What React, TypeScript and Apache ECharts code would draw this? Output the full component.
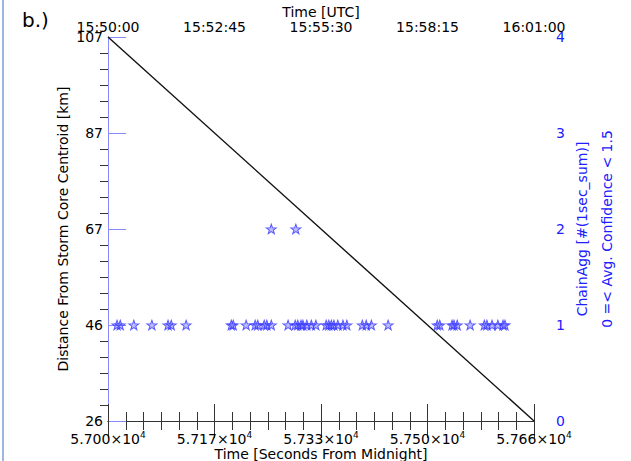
import React, { useEffect, useRef } from "react";
import * as echarts from "echarts";

// ---- data ----
const TIME_MIN = 57000; // seconds from midnight
const TIME_MAX = 57660;
const TIME_STEP = 165;
const DIST_MIN = 26;
const DIST_MAX = 107;
const DIST_STEP = 20.25;

// distance line (time [s], distance [km])
const LINE_TIME = [57000, 57660];
const LINE_DIST = [107, 26];

// ChainAgg stars (time [s], count)
const STAR_TIME = [
  57014, 57019, 57040, 57068, 57093, 57098, 57121,
  57191, 57194, 57214, 57228, 57232, 57242, 57246, 57253,
  57279, 57290, 57294, 57299, 57302, 57308, 57315, 57322,
  57338, 57342, 57346, 57350, 57356, 57364, 57370,
  57394, 57400, 57408, 57434,
  57510, 57514, 57533, 57536, 57541, 57561, 57583, 57587, 57595, 57604, 57612, 57615,
  57253, 57291,
];
const STAR_COUNT = [
  1, 1, 1, 1, 1, 1, 1,
  1, 1, 1, 1, 1, 1, 1, 1,
  1, 1, 1, 1, 1, 1, 1, 1,
  1, 1, 1, 1, 1, 1, 1,
  1, 1, 1, 1,
  1, 1, 1, 1, 1, 1, 1, 1, 1, 1, 1, 1,
  2, 2,
];

const FONT = "DejaVu Sans";
const BLUE = "#2020ff";
const AXIS_BLUE = "#8a8aff";
const STAR =
  "path://M0,-10L2.35,-3.24L9.51,-3.09L3.8,1.24L5.88,8.09L0,4L-5.88,8.09L-3.8,1.24L-9.51,-3.09L-2.35,-3.24Z";

const pad = (n: number) => (n < 10 ? "0" + n : "" + n);
const fmtUTC = (v: number) => {
  const t = Math.round(TIME_MIN + v);
  const h = Math.floor(t / 3600);
  const m = Math.floor((t % 3600) / 60);
  const s = t % 60;
  return `${pad(h)}:${pad(m)}:${pad(s)}`;
};
const fmtSci = (v: number) => {
  const t = TIME_MIN + v;
  const mant = (Math.round(t / 10) / 1000).toFixed(3);
  return `{m|${mant}×10}{s|4}`;
};

export default function App() {
  const ref = useRef<HTMLDivElement>(null);
  useEffect(() => {
    if (!ref.current) return;
    const chart = echarts.init(ref.current, undefined, { renderer: "svg" });
    const lineData = LINE_TIME.map((t, i) => [t - TIME_MIN, LINE_DIST[i] - DIST_MIN]);
    const starData = STAR_TIME.map((t, i) => [t - TIME_MIN, STAR_COUNT[i]]);
    const xRange = TIME_MAX - TIME_MIN;
    const yRange = DIST_MAX - DIST_MIN;
    chart.setOption({
      animation: false,
      textStyle: { fontFamily: FONT },
      grid: { left: 108, right: 97, top: 37, bottom: 40, containLabel: false, outerBoundsMode: "none" },
      xAxis: [
        {
          type: "value",
          position: "bottom",
          min: 0,
          max: xRange,
          interval: TIME_STEP,
          name: "Time [Seconds From Midnight]",
          nameLocation: "middle",
          nameGap: 26,
          nameMoveOverlap: false,
          nameTextStyle: { fontSize: 14, color: "#000", fontFamily: FONT },
          axisLine: { lineStyle: { color: "#333", width: 1 } },
          axisTick: { inside: true, length: 17, lineStyle: { color: "#333" } },
          minorTick: { show: true, splitNumber: 6, length: -9, lineStyle: { color: "#333" } },
          splitLine: { show: false },
          axisLabel: {
            margin: 9,
            formatter: fmtSci,
            color: "#000",
            alignMinLabel: "center",
            alignMaxLabel: "center",
            rich: {
              m: { fontSize: 14, fontFamily: FONT, color: "#000" },
              s: { fontSize: 9, fontFamily: FONT, color: "#000", verticalAlign: "top", padding: [0, 0, 8, 0] },
            },
          },
        },
        {
          type: "value",
          position: "top",
          min: 0,
          max: xRange,
          interval: TIME_STEP,
          name: "Time [UTC]",
          nameLocation: "middle",
          nameGap: 18,
          nameMoveOverlap: false,
          nameTextStyle: { fontSize: 14, color: "#000", fontFamily: FONT },
          axisLine: { lineStyle: { color: "#333", width: 1 } },
          axisTick: { inside: true, length: 17, lineStyle: { color: "#333" } },
          minorTick: { show: true, splitNumber: 6, length: -9, lineStyle: { color: "#333" } },
          splitLine: { show: false },
          axisLabel: {
            margin: 3,
            fontSize: 14,
            color: "#000",
            fontFamily: FONT,
            formatter: fmtUTC,
            alignMinLabel: "center",
            alignMaxLabel: "center",
          },
        },
      ],
      yAxis: [
        {
          type: "value",
          position: "left",
          min: 0,
          max: yRange,
          interval: DIST_STEP,
          name: "Distance From Storm Core Centroid [km]",
          nameLocation: "middle",
          nameGap: 38,
          nameMoveOverlap: false,
          nameTextStyle: { fontSize: 14, color: "#000", fontFamily: FONT },
          axisLine: { lineStyle: { color: "#333", width: 1 } },
          axisTick: { inside: true, length: 15, lineStyle: { color: "#333" } },
          minorTick: { show: true, splitNumber: 6, length: -8, lineStyle: { color: "#333" } },
          splitLine: { show: false },
          axisLabel: {
            margin: 5,
            fontSize: 14,
            color: "#000",
            fontFamily: FONT,
            verticalAlignMinLabel: "middle",
            verticalAlignMaxLabel: "middle",
            formatter: (v: number) => String(Math.round(v + DIST_MIN)),
          },
        },
        {
          type: "value",
          position: "right",
          min: 0,
          max: 4,
          interval: 1,
          axisLine: { lineStyle: { color: AXIS_BLUE, width: 1 } },
          axisTick: { inside: false, length: 18, lineStyle: { color: AXIS_BLUE } },
          splitLine: { show: false },
          axisLabel: {
            margin: 22,
            fontSize: 14,
            color: BLUE,
            fontFamily: FONT,
            verticalAlignMinLabel: "middle",
            verticalAlignMaxLabel: "middle",
          },
        },
      ],
      graphic: [
        {
          type: "text",
          x: 22,
          y: 20,
          style: { text: "b.)", fontSize: 20, fontFamily: FONT, fill: "#000", textVerticalAlign: "middle" },
        },
        {
          type: "line",
          shape: { x1: 3, y1: 0, x2: 3, y2: 461 },
          style: { stroke: "#7d9fd6", lineWidth: 1.5 },
        },
        {
          type: "text",
          x: 582,
          y: 229,
          rotation: Math.PI / 2,
          style: {
            text: "ChainAgg [#(1sec_sum)]",
            fontSize: 14,
            fontFamily: FONT,
            fill: BLUE,
            textAlign: "center",
            textVerticalAlign: "middle",
          },
        },
        {
          type: "text",
          x: 607,
          y: 229,
          rotation: Math.PI / 2,
          style: {
            text: "0 =< Avg. Confidence < 1.5",
            fontSize: 14,
            fontFamily: FONT,
            fill: BLUE,
            textAlign: "center",
            textVerticalAlign: "middle",
          },
        },
      ],
      series: [
        {
          type: "line",
          xAxisIndex: 0,
          yAxisIndex: 0,
          data: lineData,
          showSymbol: false,
          lineStyle: { color: "#111", width: 1.4 },
          z: 3,
        },
        {
          type: "scatter",
          xAxisIndex: 0,
          yAxisIndex: 1,
          data: starData,
          symbol: STAR,
          symbolSize: [10, 9.5],
          itemStyle: { color: "rgba(70,70,255,0.45)", borderColor: "#3a3aff", borderWidth: 1 },
          z: 4,
        },
      ],
    });
    return () => chart.dispose();
  }, []);
  return (
    <div
      ref={ref}
      style={{ position: "fixed", left: 0, top: 0, width: 631, height: 461, background: "#fff" }}
    />
  );
}
